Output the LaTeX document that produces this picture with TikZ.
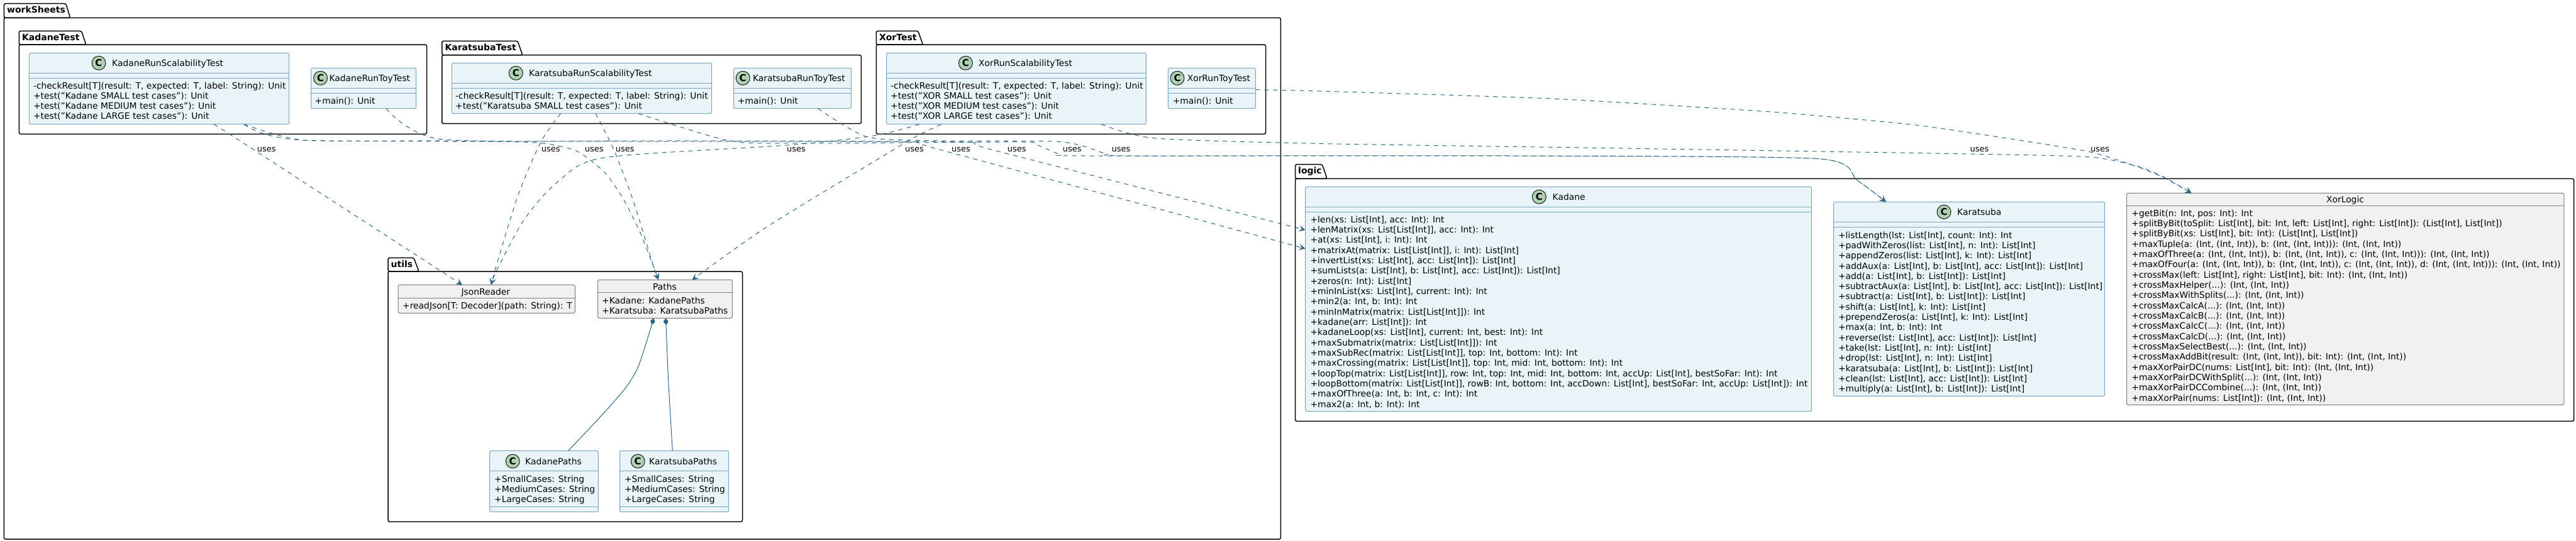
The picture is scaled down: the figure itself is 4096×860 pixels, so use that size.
\documentclass[tikz,border=0pt]{standalone}
\usepackage{fontspec}
\setmainfont{DejaVu Sans}
\usetikzlibrary{arrows.meta,calc}
\definecolor{clsfill}{HTML}{E8F4F8}
\definecolor{clsdraw}{HTML}{7FA5B8}
\definecolor{grayfill}{HTML}{F1F1F1}
\definecolor{graydraw}{HTML}{7F7F7F}
\definecolor{linkc}{HTML}{2E6480}
\definecolor{spotc}{HTML}{ADD1B2}
\tikzset{
  clsblue/.style={draw=clsdraw,fill=clsfill,line width=1pt,rounded corners=2.5pt,inner sep=0pt,outer sep=0pt},
  clsgray/.style={draw=graydraw,fill=grayfill,line width=1pt,rounded corners=2.5pt,inner sep=0pt,outer sep=0pt},
  spot/.style={circle,draw=black!90,fill=spotc,line width=1pt,minimum size=22pt,inner sep=0pt,font=\fontsize{15}{15}\selectfont\bfseries},
  memtext/.style={anchor=north west,inner sep=0pt,align=left,font=\fontsize{13.85}{16.33}\selectfont},
  titletext/.style={inner sep=0pt,font=\fontsize{13.85}{16}\selectfont},
  pkgframe/.style={draw=black,line width=1.5pt,rounded corners=2.5pt},
  pkglabel/.style={anchor=base west,inner sep=0pt,font=\fontsize{14}{16}\selectfont\bfseries},
  useslabel/.style={anchor=base west,inner sep=0pt,font=\fontsize{13}{15}\selectfont},
  uses/.style={draw=linkc,line width=1pt,dash pattern=on 7pt off 7pt,-{Stealth[length=10pt,width=10pt,inset=4pt]}},
  compose/.style={draw=linkc,line width=1pt,{Diamond[length=11pt,width=8pt,fill=linkc]}-},
}
\newcommand{\pkgbox}[9]{% name,x0,ytab,xtabtop,xtabbot,ybody,x1,y2,label
  \draw[pkgframe] (#2,#6) -- (#2,#3) -- (#4,#3) -- (#5,#6) -- (#2,#6) -- cycle;
  \draw[pkgframe] (#2,#6) -- (#7,#6) -- (#7,#8) -- (#2,#8) -- cycle;
  \node[pkglabel] (#1) at ({#2+4.5},{#3+15.2}) {#9};}
\newcommand{\clsbox}[6]{% name,style,x1,y1,x2,y2
  \node[#2,anchor=north west,minimum width={(#5-#3)*1pt},minimum height={(#6-#4)*1pt}] (#1) at (#3,#4) {};}
\newcommand{\divider}[3][clsdraw]{\draw[#1,line width=1pt] (#2.west |- 0,#3) -- (#2.east |- 0,#3);}
\newcommand{\spothead}[5]{% name,cx,cy,tx,title
  \node[spot] (#1-spot) at (#2,#3) {C};
  \node[titletext,anchor=base west] (#1-title) at (#4,{#3+5}) {#5};}
\newcommand{\memb}[4]{% name,x,first line centre y,lines
  \node[memtext] (#1-mem) at (#2,{#3-8.2}) {\rule{0pt}{13pt}#4};}
\begin{document}
\begin{tikzpicture}[x=1pt,y=-1pt]
\useasboundingbox (0,0) rectangle (4096,860);
% ---------- packages
\pkgbox{pworksheets}{6.4}{5.7}{104.7}{111.6}{28.3}{2036.4}{858}{workSheets}
\pkgbox{pkadane}{30.3}{49.3}{129.5}{136.8}{71}{678.6}{213.3}{KadaneTest}
\pkgbox{pkaratsuba}{702.8}{65.3}{823}{830.9}{87.7}{1369.4}{196.7}{KaratsubaTest}
\pkgbox{pxor}{1393.3}{49.3}{1459.7}{1467.5}{71}{2012.5}{213.3}{XorTest}
\pkgbox{putils}{617}{410.3}{658}{666}{432}{1180.5}{830.3}{utils}
\pkgbox{plogic}{2059.5}{261.7}{2102.4}{2110}{284.3}{4092.6}{670.3}{logic}
% ---------- KadaneTest
\clsbox{kadS}{clsblue}{46.4}{84.3}{459.6}{197.7}
\divider{kadS}{116.3}\divider{kadS}{124.3}
\spothead{kadS}{157}{100.3}{178}{KadaneRunScalabilityTest}
\memb{kadS}{52.8}{136}{-checkResult[T](result: T, expected: T, label: String): Unit\\+test("Kadane SMALL test cases"): Unit\\+test("Kadane MEDIUM test cases"): Unit\\+test("Kadane LARGE test cases"): Unit}
\clsbox{kadT}{clsblue}{494.5}{108.3}{661.6}{172.7}
\divider{kadT}{140.3}\divider{kadT}{148.3}
\spothead{kadT}{509.6}{124.3}{523.4}{KadaneRunToyTest}
\memb{kadT}{500.5}{160}{+main(): Unit}
% ---------- KaratsubaTest
\clsbox{karS}{clsblue}{718.4}{100.3}{1131.6}{180.7}
\divider{karS}{132.3}\divider{karS}{140.7}
\spothead{karS}{820.3}{116.3}{841}{KaratsubaRunScalabilityTest}
\memb{karS}{724}{152.3}{-checkResult[T](result: T, expected: T, label: String): Unit\\+test("Karatsuba SMALL test cases"): Unit}
\clsbox{karT}{clsblue}{1166.5}{108.3}{1353.4}{172.7}
\divider{karT}{140.3}\divider{karT}{148.3}
\spothead{karT}{1181.2}{124.3}{1196.8}{KaratsubaRunToyTest}
\memb{karT}{1172.9}{160}{+main(): Unit}
% ---------- XorTest
\clsbox{xorS}{clsblue}{1409.6}{84.3}{1822.4}{197.7}
\divider{xorS}{116.3}\divider{xorS}{124.3}
\spothead{xorS}{1535.4}{100.3}{1556}{XorRunScalabilityTest}
\memb{xorS}{1416}{136}{-checkResult[T](result: T, expected: T, label: String): Unit\\+test("XOR SMALL test cases"): Unit\\+test("XOR MEDIUM test cases"): Unit\\+test("XOR LARGE test cases"): Unit}
\clsbox{xorT}{clsblue}{1857.3}{108.3}{1996.4}{172.7}
\divider{xorT}{140.3}\divider{xorT}{148.3}
\spothead{xorT}{1872}{124.3}{1887.6}{XorRunToyTest}
\memb{xorT}{1864.6}{160}{+main(): Unit}
% ---------- utils
\clsbox{json}{clsgray}{633}{453.3}{914.4}{498.3}
\divider[graydraw]{json}{474.3}
\node[titletext,anchor=base] (json-title) at (772.3,469.3) {JsonReader};
\memb{json}{640}{486}{+readJson[T: Decoder](path: String): T}
\clsbox{paths}{clsgray}{950.5}{445.3}{1164.4}{506.3}
\divider[graydraw]{paths}{465.3}
\node[titletext,anchor=base] (paths-title) at (1057,461) {Paths};
\memb{paths}{957}{478.3}{+Kadane: KadanePaths\\+Karatsuba: KaratsubaPaths}
\clsbox{kadP}{clsblue}{778.5}{717.3}{951.4}{814.7}
\divider{kadP}{749.3}\divider{kadP}{806.3}
\spothead{kadP}{815.2}{734}{835}{KadanePaths}
\memb{kadP}{786}{762.3}{+SmallCases: String\\+MediumCases: String\\+LargeCases: String}
\clsbox{karP}{clsblue}{985.6}{717.3}{1158.6}{814.7}
\divider{karP}{749.3}\divider{karP}{806.3}
\spothead{karP}{1014.2}{734}{1032}{KaratsubaPaths}
\memb{karP}{992.8}{762.3}{+SmallCases: String\\+MediumCases: String\\+LargeCases: String}
% ---------- logic
\clsbox{kad}{clsblue}{2075.6}{297.3}{2880.4}{654.7}
\divider{kad}{329.3}\divider{kad}{337.3}
\spothead{kad}{2447.3}{313.3}{2468.5}{Kadane}
\memb{kad}{2083.3}{349.3}{+len(xs: List[Int], acc: Int): Int\\+lenMatrix(xs: List[List[Int]], acc: Int): Int\\+at(xs: List[Int], i: Int): Int\\+matrixAt(matrix: List[List[Int]], i: Int): List[Int]\\+invertList(xs: List[Int], acc: List[Int]): List[Int]\\+sumLists(a: List[Int], b: List[Int], acc: List[Int]): List[Int]\\+zeros(n: Int): List[Int]\\+minInList(xs: List[Int], current: Int): Int\\+min2(a: Int, b: Int): Int\\+minInMatrix(matrix: List[List[Int]]): Int\\+kadane(arr: List[Int]): Int\\+kadaneLoop(xs: List[Int], current: Int, best: Int): Int\\+maxSubmatrix(matrix: List[List[Int]]): Int\\+maxSubRec(matrix: List[List[Int]], top: Int, bottom: Int): Int\\+maxCrossing(matrix: List[List[Int]], top: Int, mid: Int, bottom: Int): Int\\+loopTop(matrix: List[List[Int]], row: Int, top: Int, mid: Int, bottom: Int, accUp: List[Int], bestSoFar: Int): Int\\+loopBottom(matrix: List[List[Int]], rowB: Int, bottom: Int, accDown: List[Int], bestSoFar: Int, accUp: List[Int]): Int\\+maxOfThree(a: Int, b: Int, c: Int): Int\\+max2(a: Int, b: Int): Int}
\clsbox{kar}{clsblue}{2915.6}{321.3}{3346.7}{630.3}
\divider{kar}{353.3}\divider{kar}{361.3}
\spothead{kar}{3091}{337.3}{3112}{Karatsuba}
\memb{kar}{2922.8}{374}{+listLength(lst: List[Int], count: Int): Int\\+padWithZeros(list: List[Int], n: Int): List[Int]\\+appendZeros(list: List[Int], k: Int): List[Int]\\+addAux(a: List[Int], b: List[Int], acc: List[Int]): List[Int]\\+add(a: List[Int], b: List[Int]): List[Int]\\+subtractAux(a: List[Int], b: List[Int], acc: List[Int]): List[Int]\\+subtract(a: List[Int], b: List[Int]): List[Int]\\+shift(a: List[Int], k: Int): List[Int]\\+prependZeros(a: List[Int], k: Int): List[Int]\\+max(a: Int, b: Int): Int\\+reverse(lst: List[Int], acc: List[Int]): List[Int]\\+take(lst: List[Int], n: Int): List[Int]\\+drop(lst: List[Int], n: Int): List[Int]\\+karatsuba(a: List[Int], b: List[Int]): List[Int]\\+clean(lst: List[Int], acc: List[Int]): List[Int]\\+multiply(a: List[Int], b: List[Int]): List[Int]}
\clsbox{xl}{clsgray}{3381.5}{307.3}{4076.8}{644.3}
\divider[graydraw]{xl}{327.3}
\node[titletext,anchor=base] (xl-title) at (3729,322.3) {XorLogic};
\memb{xl}{3389.2}{339.3}{+getBit(n: Int, pos: Int): Int\\+splitByBit(toSplit: List[Int], bit: Int, left: List[Int], right: List[Int]): (List[Int], List[Int])\\+splitByBit(xs: List[Int], bit: Int): (List[Int], List[Int])\\+maxTuple(a: (Int, (Int, Int)), b: (Int, (Int, Int))): (Int, (Int, Int))\\+maxOfThree(a: (Int, (Int, Int)), b: (Int, (Int, Int)), c: (Int, (Int, Int))): (Int, (Int, Int))\\+maxOfFour(a: (Int, (Int, Int)), b: (Int, (Int, Int)), c: (Int, (Int, Int)), d: (Int, (Int, Int))): (Int, (Int, Int))\\+crossMax(left: List[Int], right: List[Int], bit: Int): (Int, (Int, Int))\\+crossMaxHelper(...): (Int, (Int, Int))\\+crossMaxWithSplits(...): (Int, (Int, Int))\\+crossMaxCalcA(...): (Int, (Int, Int))\\+crossMaxCalcB(...): (Int, (Int, Int))\\+crossMaxCalcC(...): (Int, (Int, Int))\\+crossMaxCalcD(...): (Int, (Int, Int))\\+crossMaxSelectBest(...): (Int, (Int, Int))\\+crossMaxAddBit(result: (Int, (Int, Int)), bit: Int): (Int, (Int, Int))\\+maxXorPairDC(nums: List[Int], bit: Int): (Int, (Int, Int))\\+maxXorPairDCWithSplit(...): (Int, (Int, Int))\\+maxXorPairDCCombine(...): (Int, (Int, Int))\\+maxXorPair(nums: List[Int]): (Int, (Int, Int))}
% ---------- uses connectors
\draw[uses] plot[smooth,tension=0.45] coordinates {(340,0 |- kadS.south) (400,236) (560,340) (735,0 |- json.north)};
\draw[uses] plot[smooth,tension=0.45] coordinates {(891.5,0 |- karS.south) (860,226) (824,310) (790,420) (781,0 |- json.north)};
\draw[uses] plot[smooth,tension=0.45] coordinates {(1462,0 |- xorS.south) (1389,216) (1252,231) (960,251) (886,290) (833,350) (790,430) (781,0 |- json.north)};
\draw[uses] plot[smooth,tension=0.4] coordinates {(388,0 |- kadS.south) (482,223) (700,224) (851,227) (916,240) (962,275) (993,320) (1020,375) (1047,0 |- paths.north)};
\draw[uses] plot[smooth,tension=0.45] coordinates {(947,0 |- karS.south) (975.5,237) (1007,320) (1038,420) (1047,0 |- paths.north)};
\draw[uses] plot[smooth,tension=0.45] coordinates {(1496.4,0 |- xorS.south) (1457,217) (1418,240) (1221,360) (1100.5,0 |- paths.north)};
\draw[uses] plot[smooth,tension=0.4] coordinates {(388,0 |- kadS.south) (482,223) (1000,225) (1440,226) (1490,237) (kad.west |- 0,395.7)};
\draw[uses] plot[smooth,tension=0.4] coordinates {(614,0 |- kadT.south) (702.5,221.7) (1100,224) (1530,226) (1576,238) (kad.west |- 0,366)};
\draw[uses] plot[smooth,tension=0.4] coordinates {(1015,0 |- karS.south) (1159,224) (1269,228) (1620,226) (1650,231) (1687,246) (1730,248) (2400,248) (2891.6,252.7) (2953,287) (2998.8,0 |- kar.north)};
\draw[uses] plot[smooth,tension=0.4] coordinates {(1300.5,0 |- karT.south) (1379.5,218) (1500,224) (1675,225) (1721,232) (1760,245) (1800,248) (2400,248) (2891.6,252.7) (2953,287) (2998.8,0 |- kar.north)};
\draw[uses] plot[smooth,tension=0.4] coordinates {(1751,0 |- xorS.south) (1836,220) (2100,228.5) (2560,235.7) (3132,245) (3324,250) (3400,265) (3441,282) (3484.6,0 |- xl.north)};
\draw[uses] plot[smooth,tension=0.3] coordinates {(xorT.east |- 0,142.7) (2100,145) (2467,157) (2816,178) (3055,200) (3315,240) (3400,266) (3441,283) (3484.6,0 |- xl.north)};
% ---------- composition
\draw[compose] plot[smooth,tension=0.4] coordinates {(1039.5,0 |- paths.south) (1000,610) (903.5,0 |- kadP.north)};
\draw[compose] plot[smooth,tension=0.4] coordinates {(1058.6,0 |- paths.south) (1063,610) (1069.3,0 |- karP.north)};
% ---------- labels
\foreach \n/\x in {a/408.6,b/860.7,c/929.6,d/978.7,e/1251,f/1439,g/1513,h/1601.6,i/1689.7,j/1767.3,k/3132.4,l/3324}
  \node[useslabel] (lab\n) at (\x,241.5) {uses};
\end{tikzpicture}
\end{document}
